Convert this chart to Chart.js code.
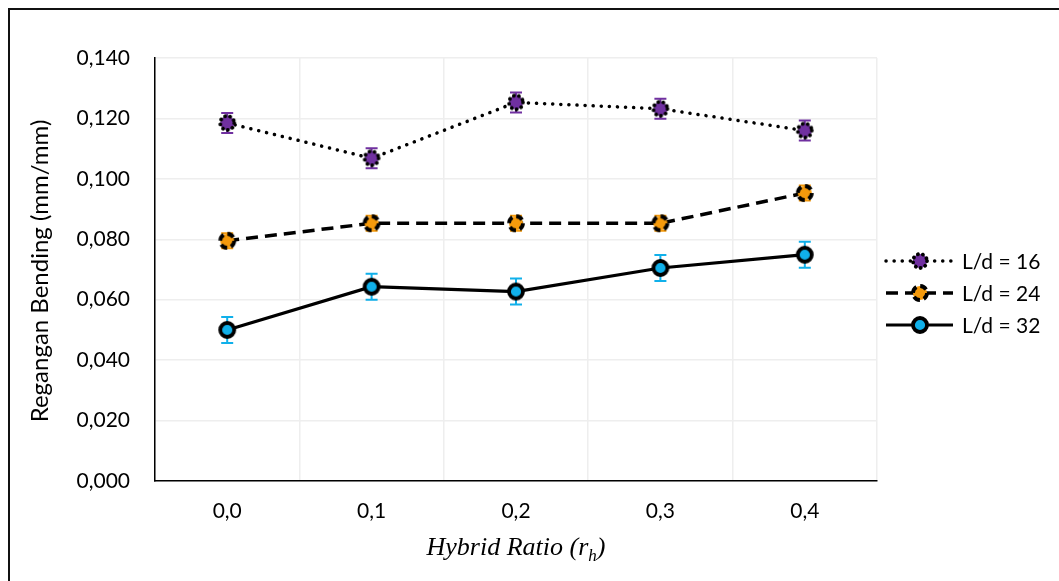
<!DOCTYPE html>
<html>
<head>
<meta charset="utf-8">
<script src="https://cdn.jsdelivr.net/npm/chart.js@4.4.0/dist/chart.umd.min.js"></script>
<style>
  html, body { margin: 0; padding: 0; background: #fff; }
  #wrap { position: relative; width: 1059px; height: 581px; overflow: hidden; }
  #frame { position: absolute; left: 8px; top: 8px; width: 1100px; height: 700px; border: 2px solid #111; box-sizing: border-box; }
  #chart { position: absolute; left: 0; top: 0; }
  #xtitle { position: absolute; left: 155px; width: 722px; top: 532px; text-align: center;
            font-family: "Liberation Serif", serif; font-style: italic; font-size: 26px; color: #000; }
  #xtitle sub { font-size: 17px; }
  #ytitle { position: absolute; left: 38px; top: 271px; transform: translate(-50%, -50%) rotate(-90deg);
            white-space: nowrap; font-family: Lato, sans-serif; font-size: 24px; color: #000; }
</style>
</head>
<body>
<div id="wrap">
  <canvas id="chart" width="1059" height="581"></canvas>
  <div id="frame"></div>
  <div id="ytitle">Regangan Bending (mm/mm)</div>
  <div id="xtitle">Hybrid Ratio (<i>r<sub>h</sub></i>)</div>
</div>
<script>
// data
categories = ['0,0', '0,1', '0,2', '0,3', '0,4'];
seriesNames = ['L/d = 16', 'L/d = 24', 'L/d = 32'];
ld16 = [0.1185, 0.1068, 0.1253, 0.1232, 0.1160];
ld24 = [0.0795, 0.0853, 0.0853, 0.0853, 0.0953];
ld32 = [0.0500, 0.0643, 0.0627, 0.0705, 0.0749];
err16 = [0.0033, 0.0033, 0.0033, 0.0033, 0.0033];
err24 = [0.0025, 0.0025, 0.0025, 0.0025, 0.0025];
err32 = [0.0043, 0.0043, 0.0043, 0.0043, 0.0043];

fills = ['#7030A0', '#F59A0C', '#10B0EA'];
lineDashes = [[0.1, 8], [12, 7], []];
markerDashes = [[0.1, 5], [7, 4], []];

// Build a marker picture for every series (filled circle, black dashed rim)
function make_marker(fill, dash) {
    const c = document.createElement('canvas');
    c.width = 22;
    c.height = 22;
    const g = c.getContext('2d');
    g.beginPath();
    g.arc(11, 11, 7, 0, Math.PI * 2);
    g.fillStyle = fill;
    g.fill();
    g.setLineDash(dash);
    g.lineCap = dash.length && dash[0] < 1 ? 'round' : 'butt';
    g.lineWidth = 3.8;
    g.strokeStyle = '#000';
    g.stroke();
    return c;
}
markers = fills.map((f, i) => make_marker(f, markerDashes[i]));

values = [ld16, ld24, ld32];
errors = [err16, err24, err32];

// Error bars (drawn through the y scale)
const errorBars = {
    id: 'errorBars',
    beforeDatasetsDraw(chart) {
        const ctx = chart.ctx;
        const y = chart.scales.y;
        chart.data.datasets.forEach((ds, i) => {
            const meta = chart.getDatasetMeta(i);
            ctx.save();
            ctx.strokeStyle = fills[i];
            ctx.lineWidth = 2;
            meta.data.forEach((pt, j) => {
                const top = y.getPixelForValue(values[i][j] + errors[i][j]);
                const bot = y.getPixelForValue(values[i][j] - errors[i][j]);
                ctx.beginPath();
                ctx.moveTo(pt.x, top); ctx.lineTo(pt.x, bot);
                ctx.moveTo(pt.x - 6, top); ctx.lineTo(pt.x + 6, top);
                ctx.moveTo(pt.x - 6, bot); ctx.lineTo(pt.x + 6, bot);
                ctx.stroke();
            });
            ctx.restore();
        });
    }
};

// Legend on the right: line sample, marker, text
const sideLegend = {
    id: 'sideLegend',
    afterDraw(chart) {
        const ctx = chart.ctx;
        const rows = [261, 293, 325];
        ctx.save();
        seriesNames.forEach((name, i) => {
            const yy = rows[i];
            ctx.beginPath();
            ctx.setLineDash(lineDashes[i]);
            ctx.lineCap = i === 0 ? 'round' : 'butt';
            ctx.lineWidth = i === 2 ? 3.2 : 3.5;
            ctx.strokeStyle = '#000';
            ctx.moveTo(886, yy); ctx.lineTo(953, yy);
            ctx.stroke();
            ctx.setLineDash([]);
            ctx.drawImage(markers[i], 920 - 11, yy - 11);
            ctx.fillStyle = '#000';
            ctx.font = '21px Lato';
            ctx.textBaseline = 'middle';
            ctx.fillText(name, 962, yy + 1);
        });
        ctx.restore();
    }
};

new Chart('chart', {
    type: 'line',
    data: {
        labels: categories,
        datasets: values.map((v, i) => ({
            label: seriesNames[i],
            data: v,
            borderColor: '#000',
            borderWidth: i === 2 ? 3.2 : 3.5,
            borderDash: lineDashes[i],
            borderCapStyle: i === 0 ? 'round' : 'butt',
            pointStyle: markers[i],
            pointRadius: 8,
            tension: 0,
            fill: false
        }))
    },
    options: {
        responsive: false,
        animation: false,
        layout: { padding: { left: 0, top: 58, right: 182, bottom: 0 } },
        plugins: { legend: { display: false }, tooltip: { enabled: false } },
        scales: {
            x: {
                offset: true,
                grid: {
                    offset: true,
                    drawTicks: false,
                    color: ctx => ctx.index === categories.length ? '#000' : '#eeeeee',
                    lineWidth: 1.5
                },
                border: { color: '#000', width: 1.5 },
                ticks: { padding: 18, color: '#000', font: { family: 'Lato', size: 21 } },
                afterFit: s => { s.height = 100; }
            },
            y: {
                min: 0,
                max: 0.14,
                grid: { drawTicks: false, color: '#eeeeee', lineWidth: 1.5 },
                border: { color: '#000', width: 1.5 },
                ticks: {
                    stepSize: 0.02,
                    padding: 25,
                    color: '#000',
                    font: { family: 'Lato', size: 21 },
                    callback: v => v.toFixed(3).replace('.', ',')
                },
                afterFit: s => { s.width = 155; }
            }
        }
    },
    plugins: [errorBars, sideLegend]
});
</script>
</body>
</html>
